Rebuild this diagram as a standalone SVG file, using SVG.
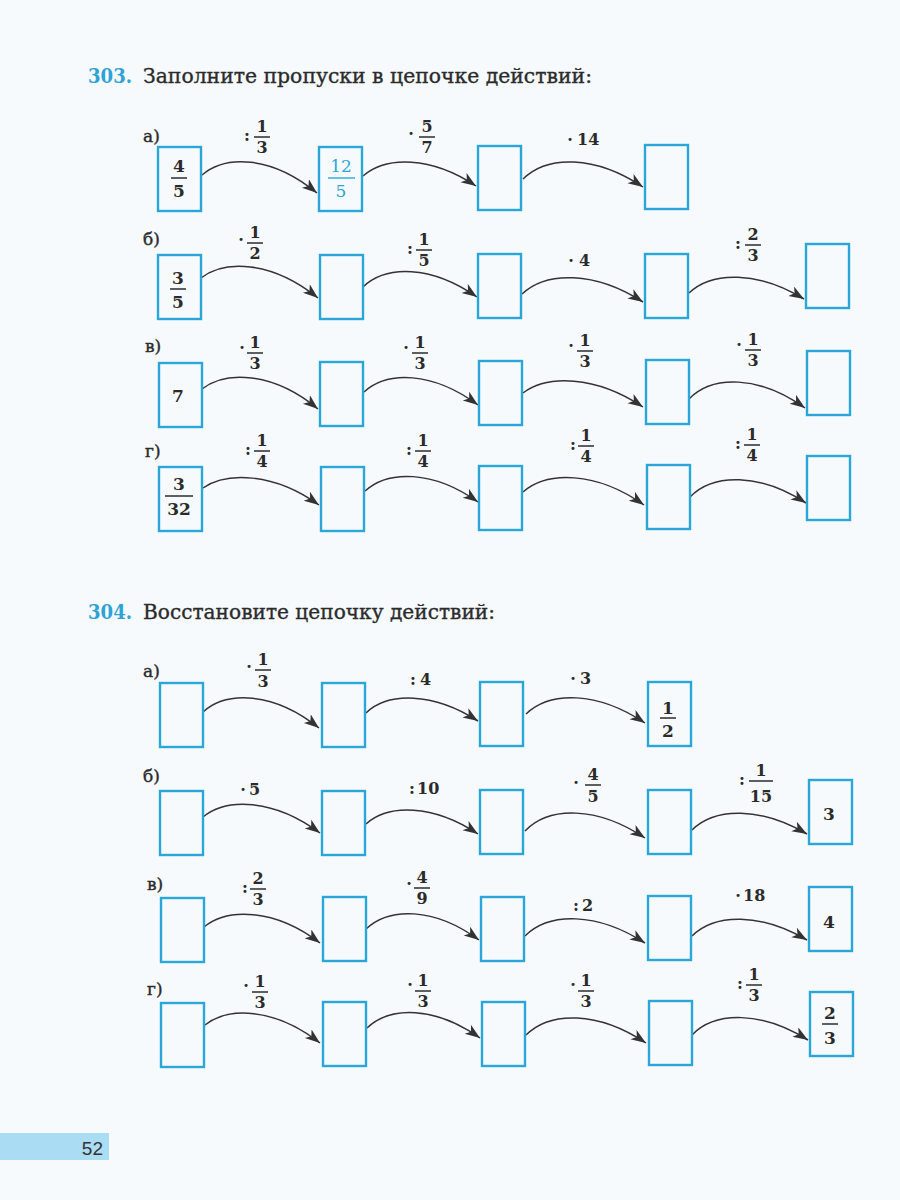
<svg xmlns="http://www.w3.org/2000/svg" width="900" height="1200" viewBox="0 0 900 1200">
<style>
.box{fill:none;stroke:#2ba6da;stroke-width:2.4}
.arr{fill:none;stroke:#333;stroke-width:1.5;marker-end:url(#ah)}
.n{font-family:"DejaVu Serif","Liberation Serif",serif;font-size:16px;font-weight:bold;fill:#2b2b2b;text-anchor:middle}
.bn{font-family:"DejaVu Serif","Liberation Serif",serif;font-size:17px;font-weight:bold;fill:#2b2b2b;text-anchor:middle}
.bl{fill:#2ba6da;font-weight:normal}
.t{font-family:"DejaVu Serif","Liberation Serif",serif;font-size:16px;font-weight:bold;fill:#2b2b2b}
.fb{stroke:#2b2b2b;stroke-width:1.5}
.fbl{stroke:#2ba6da;stroke-width:1.4}
.lbl{font-family:"DejaVu Serif","Liberation Serif",serif;font-size:17px;fill:#2b2b2b;stroke:#2b2b2b;stroke-width:0.4}
.h{font-family:"DejaVu Serif","Liberation Serif",serif;font-size:20px;fill:#2b2b2b;stroke:#2b2b2b;stroke-width:0.35}
.hn{font-family:"DejaVu Serif","Liberation Serif",serif;font-size:20px;font-weight:bold;fill:#2fa3d6}
</style>
<defs>
<marker id="ah" markerUnits="userSpaceOnUse" markerWidth="16" markerHeight="12" refX="15" refY="5.5" orient="auto">
<path d="M0,0 L15,5.5 L0,11 L4,5.5 Z" fill="#333"/>
</marker>
</defs>
<rect width="900" height="1200" fill="#f6fafd"/>

<g id="headings">
<text class="hn" x="88" y="83" textLength="44" lengthAdjust="spacingAndGlyphs">303.</text>
<text class="h" x="143" y="83" textLength="449" lengthAdjust="spacingAndGlyphs">Заполните пропуски в цепочке действий:</text>
<text class="hn" x="88" y="619" textLength="44" lengthAdjust="spacingAndGlyphs">304.</text>
<text class="h" x="143" y="619" textLength="352" lengthAdjust="spacingAndGlyphs">Восстановите цепочку действий:</text>
</g>

<g id="sublabels">
<text class="lbl" x="143" y="142">а)</text>
<text class="lbl" x="143" y="245">б)</text>
<text class="lbl" x="145" y="352">в)</text>
<text class="lbl" x="145" y="457">г)</text>
<text class="lbl" x="143" y="677">а)</text>
<text class="lbl" x="143" y="782">б)</text>
<text class="lbl" x="147" y="890">в)</text>
<text class="lbl" x="147" y="995">г)</text>
</g>

<g id="connectors">
<path class="arr" d="M202,175 C225,155 271,155 317,193"/>
<path class="arr" d="M363,176 C386,156 431,156 476,186"/>
<path class="arr" d="M523,179 C547,155 595,155 643,187"/>

<path class="arr" d="M201,278 C224,260 271,260 318,298"/>
<path class="arr" d="M363,287 C386,265 431,265 477,297"/>
<path class="arr" d="M522,294 C546,271 595,271 643,302"/>
<path class="arr" d="M689,293 C712,271 758,271 804,299"/>

<path class="arr" d="M202,389 C225,371 272,371 318,409"/>
<path class="arr" d="M364,392 C387,371 432,371 478,405"/>
<path class="arr" d="M523,393 C547,375 595,375 643,407"/>
<path class="arr" d="M689,399 C712,375 759,375 805,408"/>

<path class="arr" d="M203,488 C226,472 273,472 319,505"/>
<path class="arr" d="M365,491 C388,470 433,470 478,502"/>
<path class="arr" d="M523,492 C547,471 596,471 644,505"/>
<path class="arr" d="M690,497 C713,473 760,473 806,503"/>

<path class="arr" d="M203,712 C226,691 273,691 319,728"/>
<path class="arr" d="M366,713 C388,692 433,692 478,721"/>
<path class="arr" d="M526,714 C550,691 597,691 645,723"/>

<path class="arr" d="M203,817 C226,798 273,798 320,833"/>
<path class="arr" d="M366,824 C388,804 433,804 478,834"/>
<path class="arr" d="M525,831 C549,806 597,806 645,838"/>
<path class="arr" d="M692,830 C715,807 761,807 807,834"/>

<path class="arr" d="M204,927 C227,908 274,908 320,943"/>
<path class="arr" d="M366,929 C389,907 434,907 479,940"/>
<path class="arr" d="M525,936 C549,912 597,912 645,943"/>
<path class="arr" d="M692,936 C715,913 761,913 807,940"/>

<path class="arr" d="M205,1025 C228,1007 274,1007 320,1043"/>
<path class="arr" d="M367,1028 C390,1006 435,1006 480,1038"/>
<path class="arr" d="M526,1035 C550,1011 598,1011 646,1043"/>
<path class="arr" d="M692,1035 C715,1011 762,1011 808,1040"/>
</g>

<g id="ops">
<text class="n" x="247" y="141">:</text><text class="n" x="262" y="132">1</text><line class="fb" x1="254" y1="137" x2="270" y2="137"/><text class="n" x="262" y="153">3</text>
<text class="n" x="411" y="139">·</text><text class="n" x="427" y="132">5</text><line class="fb" x1="419" y1="137" x2="435" y2="137"/><text class="n" x="427" y="153">7</text>
<text class="n" x="570" y="145">·</text><text class="t" x="577" y="145">14</text>

<text class="n" x="241" y="245">·</text><text class="n" x="255" y="238">1</text><line class="fb" x1="247" y1="243" x2="263" y2="243"/><text class="n" x="255" y="259">2</text>
<text class="n" x="410" y="254">:</text><text class="n" x="424" y="245">1</text><line class="fb" x1="416" y1="250" x2="432" y2="250"/><text class="n" x="424" y="266">5</text>
<text class="n" x="571" y="266">·</text><text class="t" x="579" y="266">4</text>
<text class="n" x="738" y="249">:</text><text class="n" x="753" y="240">2</text><line class="fb" x1="745" y1="245" x2="761" y2="245"/><text class="n" x="753" y="261">3</text>

<text class="n" x="242" y="353">·</text><text class="n" x="255" y="348">1</text><line class="fb" x1="247" y1="353" x2="263" y2="353"/><text class="n" x="255" y="369">3</text>
<text class="n" x="406" y="353">·</text><text class="n" x="420" y="348">1</text><line class="fb" x1="412" y1="353" x2="428" y2="353"/><text class="n" x="420" y="369">3</text>
<text class="n" x="571" y="351">·</text><text class="n" x="585" y="346">1</text><line class="fb" x1="577" y1="351" x2="593" y2="351"/><text class="n" x="585" y="367">3</text>
<text class="n" x="739" y="350">·</text><text class="n" x="753" y="345">1</text><line class="fb" x1="745" y1="350" x2="761" y2="350"/><text class="n" x="753" y="366">3</text>

<text class="n" x="248" y="455">:</text><text class="n" x="262" y="446">1</text><line class="fb" x1="254" y1="451" x2="270" y2="451"/><text class="n" x="262" y="467">4</text>
<text class="n" x="409" y="455">:</text><text class="n" x="423" y="446">1</text><line class="fb" x1="415" y1="451" x2="431" y2="451"/><text class="n" x="423" y="467">4</text>
<text class="n" x="573" y="450">:</text><text class="n" x="586" y="441">1</text><line class="fb" x1="578" y1="446" x2="594" y2="446"/><text class="n" x="586" y="462">4</text>
<text class="n" x="738" y="449">:</text><text class="n" x="752" y="440">1</text><line class="fb" x1="744" y1="445" x2="760" y2="445"/><text class="n" x="752" y="461">4</text>

<text class="n" x="249" y="672">·</text><text class="n" x="263" y="665">1</text><line class="fb" x1="255" y1="670" x2="271" y2="670"/><text class="n" x="263" y="687">3</text>
<text class="n" x="413" y="685">:</text><text class="t" x="420" y="685">4</text>
<text class="n" x="573" y="684">·</text><text class="t" x="580" y="684">3</text>

<text class="n" x="243" y="795">·</text><text class="t" x="249" y="795">5</text>
<text class="n" x="412" y="794">:</text><text class="t" x="417" y="794">10</text>
<text class="n" x="576" y="788">·</text><text class="n" x="593" y="780">4</text><line class="fb" x1="585" y1="785" x2="601" y2="785"/><text class="n" x="593" y="802">5</text>
<text class="n" x="742" y="785">:</text><text class="n" x="761" y="776">1</text><line class="fb" x1="749" y1="781" x2="773" y2="781"/><text class="n" x="761" y="802">15</text>

<text class="n" x="245" y="893">:</text><text class="n" x="258" y="884">2</text><line class="fb" x1="250" y1="889" x2="266" y2="889"/><text class="n" x="258" y="905">3</text>
<text class="n" x="409" y="889">·</text><text class="n" x="422" y="883">4</text><line class="fb" x1="414" y1="888" x2="430" y2="888"/><text class="n" x="422" y="904">9</text>
<text class="n" x="576" y="911">:</text><text class="t" x="582" y="911">2</text>
<text class="n" x="738" y="901">·</text><text class="t" x="743" y="901">18</text>

<text class="n" x="246" y="991">·</text><text class="n" x="260" y="987">1</text><line class="fb" x1="252" y1="992" x2="268" y2="992"/><text class="n" x="260" y="1008">3</text>
<text class="n" x="410" y="990">·</text><text class="n" x="423" y="986">1</text><line class="fb" x1="415" y1="991" x2="431" y2="991"/><text class="n" x="423" y="1007">3</text>
<text class="n" x="573" y="990">·</text><text class="n" x="586" y="986">1</text><line class="fb" x1="578" y1="991" x2="594" y2="991"/><text class="n" x="586" y="1007">3</text>
<text class="n" x="740" y="989">:</text><text class="n" x="754" y="980">1</text><line class="fb" x1="746" y1="985" x2="762" y2="985"/><text class="n" x="754" y="1001">3</text>
</g>

<g id="n303a1"><rect class="box" x="158" y="147" width="43" height="64"/><text class="bn" x="179" y="172">4</text><line class="fb" x1="171" y1="178" x2="187" y2="178"/><text class="bn" x="179" y="197">5</text></g>
<g id="n303a2"><rect class="box" x="319" y="147" width="43" height="64"/><text class="bn bl" x="341" y="172">12</text><line class="fbl" x1="328" y1="178" x2="355" y2="178"/><text class="bn bl" x="341" y="197">5</text></g>
<g id="n303a3"><rect class="box" x="478" y="146" width="43" height="64"/></g>
<g id="n303a4"><rect class="box" x="645" y="145" width="43" height="64"/></g>

<g id="n303b1"><rect class="box" x="158" y="255" width="43" height="64"/><text class="bn" x="178" y="284">3</text><line class="fb" x1="170" y1="289" x2="186" y2="289"/><text class="bn" x="178" y="308">5</text></g>
<g id="n303b2"><rect class="box" x="320" y="255" width="43" height="64"/></g>
<g id="n303b3"><rect class="box" x="478" y="254" width="43" height="64"/></g>
<g id="n303b4"><rect class="box" x="645" y="254" width="43" height="64"/></g>
<g id="n303b5"><rect class="box" x="806" y="244" width="43" height="64"/></g>

<g id="n303v1"><rect class="box" x="159" y="363" width="43" height="64"/><text class="bn" x="178" y="402">7</text></g>
<g id="n303v2"><rect class="box" x="320" y="362" width="43" height="64"/></g>
<g id="n303v3"><rect class="box" x="479" y="361" width="43" height="64"/></g>
<g id="n303v4"><rect class="box" x="646" y="360" width="43" height="64"/></g>
<g id="n303v5"><rect class="box" x="807" y="351" width="43" height="64"/></g>

<g id="n303g1"><rect class="box" x="159" y="467" width="43" height="64"/><text class="bn" x="179" y="490">3</text><line class="fb" x1="165" y1="496" x2="193" y2="496"/><text class="bn" x="179" y="515">32</text></g>
<g id="n303g2"><rect class="box" x="321" y="467" width="43" height="64"/></g>
<g id="n303g3"><rect class="box" x="479" y="466" width="43" height="64"/></g>
<g id="n303g4"><rect class="box" x="647" y="465" width="43" height="64"/></g>
<g id="n303g5"><rect class="box" x="807" y="456" width="43" height="64"/></g>

<g id="n304a1"><rect class="box" x="160" y="683" width="43" height="64"/></g>
<g id="n304a2"><rect class="box" x="322" y="683" width="43" height="64"/></g>
<g id="n304a3"><rect class="box" x="480" y="682" width="43" height="64"/></g>
<g id="n304a4"><rect class="box" x="648" y="682" width="43" height="64"/><text class="bn" x="668" y="714">1</text><line class="fb" x1="660" y1="718" x2="676" y2="718"/><text class="bn" x="668" y="737">2</text></g>

<g id="n304b1"><rect class="box" x="160" y="791" width="43" height="64"/></g>
<g id="n304b2"><rect class="box" x="322" y="791" width="43" height="64"/></g>
<g id="n304b3"><rect class="box" x="480" y="790" width="43" height="64"/></g>
<g id="n304b4"><rect class="box" x="648" y="790" width="43" height="64"/></g>
<g id="n304b5"><rect class="box" x="809" y="780" width="43" height="64"/><text class="bn" x="829" y="820">3</text></g>

<g id="n304v1"><rect class="box" x="161" y="898" width="43" height="64"/></g>
<g id="n304v2"><rect class="box" x="323" y="897" width="43" height="64"/></g>
<g id="n304v3"><rect class="box" x="481" y="897" width="43" height="64"/></g>
<g id="n304v4"><rect class="box" x="648" y="896" width="43" height="64"/></g>
<g id="n304v5"><rect class="box" x="809" y="887" width="43" height="64"/><text class="bn" x="829" y="928">4</text></g>

<g id="n304g1"><rect class="box" x="161" y="1003" width="43" height="64"/></g>
<g id="n304g2"><rect class="box" x="323" y="1002" width="43" height="64"/></g>
<g id="n304g3"><rect class="box" x="482" y="1002" width="43" height="64"/></g>
<g id="n304g4"><rect class="box" x="649" y="1001" width="43" height="64"/></g>
<g id="n304g5"><rect class="box" x="810" y="992" width="43" height="64"/><text class="bn" x="830" y="1019">2</text><line class="fb" x1="822" y1="1024" x2="838" y2="1024"/><text class="bn" x="830" y="1044">3</text></g>

<g id="page">
<rect x="0" y="1133" width="109" height="27" fill="#aadcf3"/>
<text x="103" y="1155" font-family="Liberation Sans, Arial, sans-serif" font-size="19" fill="#333" text-anchor="end">52</text>
</g>
</svg>
